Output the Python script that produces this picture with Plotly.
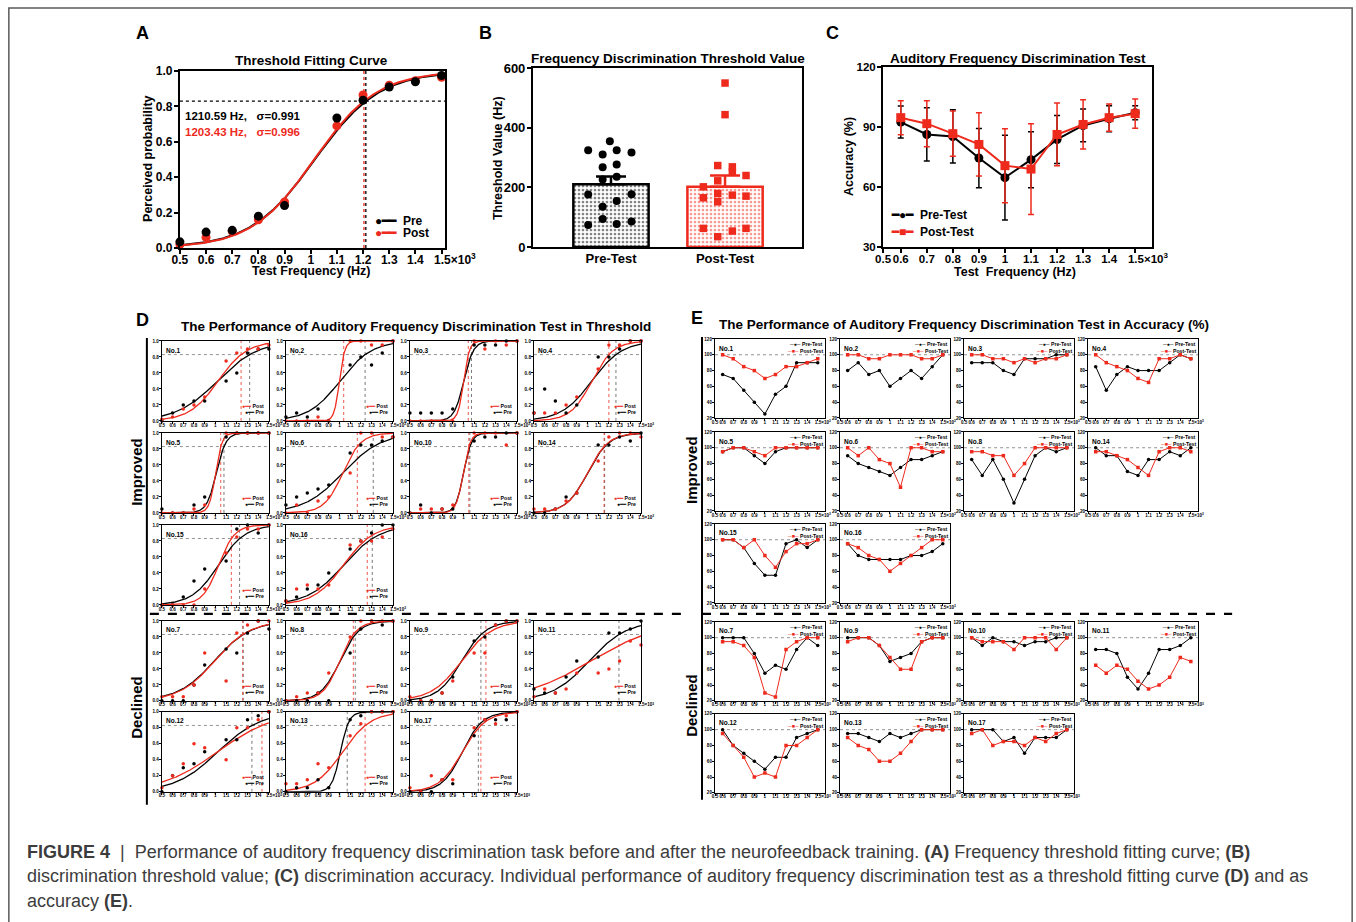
import numpy as np
import plotly.graph_objects as go

# target-picture geometry: paper is drawn into this pixel box of the page
OX, OY = 8.15, 6.9
PW, PH = 1316.7, 907.3
FONT = "Liberation Sans, Arial, Helvetica, sans-serif"
RED = "#ee2a1d"
BLK = "#000000"
GRAY = "#555555"

# ---------------- Panel A data ----------------
A_freq = [0.5, 0.6, 0.7, 0.8, 0.9, 1.1, 1.2, 1.3, 1.4, 1.5]
A_pre = [0.035, 0.09, 0.10, 0.18, 0.24, 0.735, 0.835, 0.91, 0.94, 0.975]
A_post = [0.02, 0.06, 0.095, 0.16, 0.26, 0.69, 0.865, 0.92, 0.945, 0.965]
A_pre_thr, A_pre_slope = 1.2106, 0.123
A_post_thr, A_post_slope = 1.2034, 0.120
CRIT = 0.83
X_TICKS = [0.5, 0.6, 0.7, 0.8, 0.9, 1.0, 1.1, 1.2, 1.3, 1.4, 1.5]
X_LABELS = ["0.5", "0.6", "0.7", "0.8", "0.9", "1", "1.1", "1.2", "1.3", "1.4",
            "\u00a0" * 8 + "1.5×10<sup>3</sup>"]
P_TICKS = [0, 0.2, 0.4, 0.6, 0.8, 1.0]
P_LABELS = ["0.0", "0.2", "0.4", "0.6", "0.8", "1.0"]

# ---------------- Panel B data ----------------
B_groups = ["Pre-Test", "Post-Test"]
B_means = [210.8, 201.8]
B_sems = [25.6, 38.0]
B_pre_vals = [324.5, 310, 354.6, 324.5, 316.7, 267.6, 276.6, 226.4, 235.3, 176.2, 177.3, 135, 154, 73.6, 93.7, 77, 85.9]
B_pre_jit = [-0.2, -0.073, -0.01, 0.05, 0.18, -0.073, 0.05, -0.073, 0.05, -0.2, 0.18, -0.073, 0.05, -0.2, -0.073, 0.05, 0.18]
B_post_vals = [549.8, 443.8, 273.2, 268.8, 251, 239.8, 201.8, 222, 179.5, 174, 165, 170.6, 151.7, 62.5, 53.5, 62.5, 34.6]
B_post_jit = [0, 0, -0.064, 0.064, 0.064, 0.184, -0.19, -0.064, -0.064, 0.064, -0.19, 0.184, -0.064, -0.19, 0.064, 0.184, -0.064]

# ---------------- Panel C data ----------------
C_freq = [0.6, 0.7, 0.8, 0.9, 1.0, 1.1, 1.2, 1.3, 1.4, 1.5]
C_pre = [92.5, 86.3, 85.3, 74.5, 64.7, 73.7, 83.8, 90.8, 94.2, 97.2]
C_pre_sd = [8, 13.3, 13.3, 14.8, 21.2, 14, 12, 8.2, 6.5, 3.5]
C_post = [94.7, 91.7, 86.7, 81.3, 70.7, 69, 86.3, 91.3, 94.7, 96.7]
C_post_sd = [8.5, 11.5, 11.3, 15.8, 18.5, 22.7, 15.7, 12.3, 6.8, 7.3]

# ---------------- Panel D data (threshold curves per subject) ----------------
D_ids = ["No.1", "No.2", "No.3", "No.4", "No.5", "No.6", "No.10", "No.14", "No.15", "No.16",
         "No.7", "No.8", "No.9", "No.11", "No.12", "No.13", "No.17"]
D_pre = [
    [0.0, 0.1, 0.2, 0.25, 0.25, 0.5, 0.6, 0.85, 0.9, 0.9],
    [0.05, 0.1, 0.05, 0.15, 0.0, 0.7, 0.8, 0.7, 0.85, 1.0],
    [0.1, 0.1, 0.1, 0.1, 0.15, 0.95, 0.95, 0.95, 1.0, 1.0],
    [0.1, 0.4, 0.25, 0.1, 0.2, 0.8, 0.8, 0.9, 1.0, 1.0],
    [0.05, 0.0, 0.0, 0.1, 0.2, 0.95, 1.0, 1.0, 1.0, 1.0],
    [0.1, 0.2, 0.25, 0.3, 0.35, 0.75, 0.85, 0.85, 0.9, 0.95],
    [0.0, 0.1, 0.0, 0.05, 0.05, 0.9, 0.95, 0.95, 1.0, 1.0],
    [0.0, 0.0, 0.05, 0.2, 0.25, 0.85, 0.85, 0.95, 0.9, 1.0],
    [0.0, 0.0, 0.1, 0.3, 0.45, 0.55, 0.95, 1.0, 0.9, 1.0],
    [0.05, 0.1, 0.2, 0.25, 0.4, 0.7, 0.8, 0.9, 1.0, 1.0],
    [0.0, 0.0, 0.0, 0.2, 0.45, 0.65, 0.6, 0.85, 1.0, 0.9],
    [0.0, 0.0, 0.0, 0.1, 0.0, 0.6, 0.9, 1.0, 0.95, 1.0],
    [0.0, 0.0, 0.0, 0.1, 0.3, 0.75, 0.8, 0.95, 1.0, 1.0],
    [0.15, 0.1, 0.1, 0.3, 0.5, 0.55, 0.85, 0.85, 0.9, 1.0],
    [0.0, 0.2, 0.3, 0.35, 0.5, 0.65, 0.65, 0.9, 0.95, 1.0],
    [0.0, 0.05, 0.05, 0.15, 0.05, 0.9, 0.95, 1.0, 1.0, 1.0],
    [0.0, 0.0, 0.0, 0.15, 0.1, 0.7, 0.9, 0.9, 0.9, 1.0],
]
D_post = [
    [0.02, 0.05, 0.15, 0.2, 0.3, 0.75, 0.85, 0.9, 0.9, 0.95],
    [0.0, 0.0, 0.0, 0.05, 0.0, 1.0, 1.0, 0.95, 0.95, 1.0],
    [0.0, 0.0, 0.0, 0.0, 0.0, 1.0, 0.9, 1.0, 0.95, 1.0],
    [0.1, 0.1, 0.1, 0.2, 0.3, 0.65, 0.95, 0.95, 1.0, 1.0],
    [0.0, 0.0, 0.0, 0.05, 0.1, 1.0, 1.0, 1.0, 1.0, 1.0],
    [0.0, 0.1, 0.0, 0.15, 0.2, 0.5, 1.0, 1.0, 0.95, 0.95],
    [0.0, 0.05, 0.05, 0.05, 0.1, 1.0, 1.0, 1.0, 0.85, 1.0],
    [0.05, 0.05, 0.05, 0.15, 0.25, 0.65, 0.95, 1.0, 1.0, 0.95],
    [0.0, 0.0, 0.0, 0.0, 0.2, 0.65, 0.85, 0.95, 0.95, 1.0],
    [0.05, 0.2, 0.25, 0.2, 0.25, 0.75, 0.8, 0.8, 0.85, 0.95],
    [0.05, 0.05, 0.05, 0.2, 0.6, 0.25, 0.85, 0.95, 1.0, 1.0],
    [0.0, 0.05, 0.1, 0.1, 0.35, 0.8, 1.0, 1.0, 1.0, 1.0],
    [0.05, 0.0, 0.0, 0.1, 0.25, 0.6, 0.6, 0.95, 1.0, 1.0],
    [0.05, 0.15, 0.1, 0.15, 0.35, 0.35, 0.4, 0.5, 0.75, 0.7],
    [0.05, 0.2, 0.35, 0.6, 0.55, 0.4, 0.8, 0.8, 0.9, 1.0],
    [0.1, 0.1, 0.15, 0.35, 0.3, 0.7, 0.85, 1.0, 1.0, 1.0],
    [0.05, 0.0, 0.2, 0.15, 0.15, 0.8, 0.9, 0.85, 0.95, 1.0],
]
D_pre_thr = [1.32, 1.24, 1.075, 1.266, 1.08, 1.316, 1.06, 1.16, 1.226, 1.307, 1.26, 1.148, 1.163, 1.294, 1.341, 1.073, 1.139]
D_pre_slope = [0.19, 0.148, 0.045, 0.142, 0.045, 0.18, 0.037, 0.1, 0.124, 0.168, 0.17, 0.09, 0.113, 0.175, 0.2, 0.04, 0.094]
D_post_thr = [1.24, 1.04, 1.045, 1.2, 1.05, 1.167, 1.05, 1.155, 1.149, 1.26, 1.255, 1.13, 1.21, 1.54, 1.435, 1.24, 1.163]
D_post_slope = [0.135, 0.025, 0.027, 0.1, 0.03, 0.086, 0.033, 0.098, 0.075, 0.139, 0.165, 0.08, 0.143, 0.32, 0.262, 0.132, 0.109]

# ---------------- Panel E data (accuracy per subject) ----------------
E_freq = [0.6, 0.7, 0.8, 0.9, 1.0, 1.1, 1.2, 1.3, 1.4, 1.5]
E_ids = ["No.1", "No.2", "No.3", "No.4", "No.5", "No.6", "No.8", "No.14", "No.15", "No.16",
         "No.7", "No.9", "No.10", "No.11", "No.12", "No.13", "No.17"]
E_pre = [
    [75, 70, 55, 40, 25, 50, 60, 90, 90, 90],
    [80, 90, 75, 80, 60, 70, 80, 70, 85, 100],
    [90, 90, 90, 80, 75, 95, 95, 95, 100, 100],
    [85, 55, 75, 85, 80, 80, 80, 90, 100, 95],
    [95, 100, 100, 90, 80, 95, 100, 100, 100, 100],
    [90, 80, 75, 70, 65, 75, 85, 85, 90, 95],
    [85, 65, 85, 60, 30, 60, 90, 100, 95, 100],
    [100, 90, 90, 70, 65, 85, 85, 95, 90, 100],
    [100, 100, 90, 70, 55, 55, 95, 100, 90, 100],
    [95, 80, 75, 75, 75, 75, 80, 80, 85, 95],
    [100, 100, 100, 80, 55, 65, 60, 85, 100, 90],
    [100, 100, 100, 90, 70, 75, 80, 95, 100, 100],
    [100, 90, 100, 95, 95, 90, 95, 95, 100, 100],
    [85, 85, 80, 50, 35, 55, 85, 85, 90, 100],
    [100, 80, 70, 60, 50, 65, 65, 90, 95, 100],
    [95, 95, 90, 85, 95, 90, 95, 100, 100, 100],
    [100, 100, 100, 85, 90, 70, 90, 90, 90, 100],
]
E_post = [
    [100, 95, 85, 80, 70, 75, 85, 85, 90, 95],
    [100, 100, 95, 95, 100, 100, 100, 95, 95, 100],
    [100, 100, 95, 95, 90, 95, 90, 95, 95, 100],
    [100, 90, 85, 80, 70, 65, 95, 95, 100, 95],
    [95, 100, 100, 95, 90, 100, 100, 100, 100, 100],
    [100, 90, 100, 85, 80, 50, 100, 100, 95, 95],
    [95, 95, 90, 90, 65, 80, 100, 100, 100, 100],
    [95, 95, 90, 85, 75, 65, 95, 100, 100, 95],
    [100, 100, 90, 100, 80, 65, 85, 95, 95, 100],
    [95, 90, 80, 75, 60, 70, 80, 90, 100, 100],
    [95, 95, 90, 75, 30, 25, 85, 95, 100, 100],
    [95, 100, 100, 90, 75, 60, 60, 95, 100, 100],
    [100, 95, 95, 95, 85, 100, 100, 100, 85, 100],
    [65, 55, 65, 60, 45, 35, 40, 50, 75, 70],
    [95, 80, 65, 40, 45, 40, 80, 80, 90, 100],
    [90, 80, 75, 60, 60, 70, 85, 100, 100, 100],
    [95, 100, 80, 85, 85, 80, 90, 85, 95, 100],
]
E_REF = 100

# ---------------- layout geometry (pixels of the target picture) ----------------
SLOTS = [(0, 0), (0, 1), (0, 2), (0, 3), (1, 0), (1, 1), (1, 2), (1, 3), (2, 0), (2, 1),
         (3, 0), (3, 1), (3, 2), (3, 3), (4, 0), (4, 1), (4, 2)]
D_ROWS = [341, 433, 525, 621, 712]
D_COLS = [162, 286, 410, 534]
D_W, D_H = 107, 80
E_ROWS = [339, 432, 524, 622, 714]
E_COLS = [715, 840, 964, 1088]
E_W, E_H = 110, 79


def fx(px):
    return (px - OX) / PW


def fy(py):
    return 1 - (py - OY) / PH


LOGIT = np.log(CRIT / (1 - CRIT))


def psycho(x, thr, s):
    return 1.0 / (1.0 + np.exp(-((x - thr) / s + LOGIT)))


XGRID = np.linspace(0.5, 1.5, 301)

traces = []
annotations = []
shapes = []
layout = dict(
    autosize=True, margin=dict(l=0, r=0, t=0, b=0, pad=0),
    paper_bgcolor="white", plot_bgcolor="white", showlegend=False,
    font=dict(family=FONT, color="black"),
)
counter = [0]


def new_axes(box, xr, yr, xtv, xtt, ytv, ytt, tsize, lw, tlen, xticks="outside", xstand=0, ystand=0):
    counter[0] += 1
    n = counter[0]
    s = "" if n == 1 else str(n)
    x0, x1, y0, y1 = box
    common = dict(showline=True, mirror=True, linecolor="black", linewidth=lw,
                  tickcolor="black", tickwidth=max(lw * 0.75, 0.6), ticklen=tlen,
                  showgrid=False, zeroline=False, fixedrange=True, tickmode="array",
                  tickfont=dict(family=FONT, size=tsize, color="black", weight="bold"))
    layout["xaxis" + s] = dict(domain=[fx(x0), fx(x1)], range=xr, anchor="y" + s,
                               tickvals=xtv, ticktext=xtt, tickangle=0, ticks=xticks,
                               ticklabelstandoff=xstand, **common)
    layout["yaxis" + s] = dict(domain=[fy(y1), fy(y0)], range=yr, anchor="x" + s,
                               tickvals=ytv, ticktext=ytt, ticks="outside",
                               ticklabelstandoff=ystand, **common)
    return "x" + s, "y" + s


def ann(text, px, py, size, bold=True, color="black", xanchor="center", angle=0, yanchor="middle"):
    annotations.append(dict(text=text, x=fx(px), y=fy(py), xref="paper", yref="paper",
                            showarrow=False, xanchor=xanchor, yanchor=yanchor, textangle=angle,
                            font=dict(family=FONT, size=size, color=color,
                                      weight="bold" if bold else "normal")))


def sub_ann(text, xa, ya, x, y, size, xanchor="left", yanchor="middle"):
    annotations.append(dict(text=text, x=x, y=y, xref=xa + " domain", yref=ya + " domain",
                            showarrow=False, xanchor=xanchor, yanchor=yanchor,
                            font=dict(family=FONT, size=size, color="black", weight="bold")))


# ================= Panel A =================
xa, ya = new_axes((180, 445, 71, 248), [0.5, 1.513], [0, 1.0], X_TICKS, X_LABELS,
                  P_TICKS, P_LABELS, 12, 2, 4, xstand=-4, ystand=-1)
traces.append(go.Scatter(x=[0.5, 1.513], y=[CRIT, CRIT], xaxis=xa, yaxis=ya, mode="lines",
                         line=dict(color=BLK, width=1.3, dash="dot")))
traces.append(go.Scatter(x=[A_pre_thr, A_pre_thr], y=[0, 1], xaxis=xa, yaxis=ya, mode="lines",
                         line=dict(color=BLK, width=1.3, dash="dot")))
traces.append(go.Scatter(x=[A_post_thr, A_post_thr], y=[0, 1], xaxis=xa, yaxis=ya, mode="lines",
                         line=dict(color=RED, width=1.3, dash="dot")))
traces.append(go.Scatter(x=XGRID, y=psycho(XGRID, A_pre_thr, A_pre_slope), xaxis=xa, yaxis=ya,
                         mode="lines", line=dict(color=BLK, width=2)))
traces.append(go.Scatter(x=XGRID, y=psycho(XGRID, A_post_thr, A_post_slope), xaxis=xa, yaxis=ya,
                         mode="lines", line=dict(color=RED, width=2)))
traces.append(go.Scatter(x=A_freq, y=A_post, xaxis=xa, yaxis=ya, mode="markers", cliponaxis=False,
                         marker=dict(color=RED, size=9)))
traces.append(go.Scatter(x=A_freq, y=A_pre, xaxis=xa, yaxis=ya, mode="markers", cliponaxis=False,
                         marker=dict(color=BLK, size=9)))
ann("A", 143, 33, 18)
ann("Threshold Fitting Curve", 312, 60, 13.5)
ann("Test Frequency (Hz)", 312, 271, 12.5)
ann("Perceived probability", 148, 159, 12.5, angle=-90)
ann("1210.59 Hz,   σ=0.991", 183, 116, 11.5, xanchor="left")
ann("1203.43 Hz,   σ=0.996", 183, 132, 11.5, xanchor="left", color=RED)
ann('<span style="color:black">●━━</span>  Pre', 373, 221, 12, xanchor="left")
ann('<span style="color:%s">●━━</span>  Post' % RED, 373, 233, 12, xanchor="left")

# ================= Panel B =================
xa, ya = new_axes((533, 802, 68, 247), [-0.684, 1.675], [0, 600], [0, 1], B_groups,
                  [0, 200, 400, 600], ["0", "200", "400", "600"], 12.5, 2, 4, xticks="",
                  xstand=-2, ystand=-1)
layout["xaxis2"]["tickfont"]["size"] = 13
bar_cols = [BLK, RED]
for gi in range(2):
    traces.append(go.Bar(
        x=[gi], y=[B_means[gi]], width=0.66, xaxis=xa, yaxis=ya,
        marker=dict(color="white", line=dict(color=bar_cols[gi], width=2.5),
                    pattern=dict(shape=".", fgcolor=bar_cols[gi], bgcolor="white", size=4, solidity=0.35)),
        error_y=dict(type="data", symmetric=False, array=[B_sems[gi]], arrayminus=[0],
                     color=bar_cols[gi], thickness=2.5, width=15)))
traces.append(go.Scatter(x=[0 + j for j in B_pre_jit], y=B_pre_vals, xaxis=xa, yaxis=ya,
                         mode="markers", marker=dict(color=BLK, size=8, symbol="circle")))
traces.append(go.Scatter(x=[1 + j for j in B_post_jit], y=B_post_vals, xaxis=xa, yaxis=ya,
                         mode="markers", marker=dict(color=RED, size=7.5, symbol="square")))
ann("B", 486, 33, 18)
ann("Frequency Discrimination Threshold Value", 668, 58, 13.5)
ann("Threshold Value (Hz)", 498, 158, 12.5, angle=-90)

# ================= Panel C =================
C_tv = [0.532] + C_freq
xa, ya = new_axes((883, 1152, 67, 247), [0.532, 1.565], [30, 120], C_tv, X_LABELS,
                  [30, 60, 90, 120], ["30", "60", "90", "120"], 11.5, 2, 4, xstand=-4, ystand=-1)
traces.append(go.Scatter(x=C_freq, y=C_pre, xaxis=xa, yaxis=ya, mode="lines+markers",
                         line=dict(color=BLK, width=2), marker=dict(color=BLK, size=9, symbol="circle"),
                         error_y=dict(type="data", array=C_pre_sd, color=BLK, thickness=1.5, width=3)))
traces.append(go.Scatter(x=C_freq, y=C_post, xaxis=xa, yaxis=ya, mode="lines+markers",
                         line=dict(color=RED, width=2), marker=dict(color=RED, size=9, symbol="square"),
                         error_y=dict(type="data", array=C_post_sd, color=RED, thickness=1.5, width=3)))
ann("C", 832, 33, 18)
ann("Auditory Frequency Discrimination Test", 1018, 58, 13.5)
ann("Test  Frequency (Hz)", 1015, 272, 12.5)
ann("Accuracy (%)", 849, 157, 12.5, angle=-90)
ann('<span style="color:black">━●━</span>  Pre-Test', 889, 215, 12, xanchor="left")
ann('<span style="color:%s">━■━</span>  Post-Test' % RED, 889, 232, 12, xanchor="left")

# ================= Panel D =================
for k, sid in enumerate(D_ids):
    r, c = SLOTS[k]
    box = (D_COLS[c], D_COLS[c] + D_W, D_ROWS[r], D_ROWS[r] + D_H)
    xa, ya = new_axes(box, [0.5, 1.5], [0, 1.0], X_TICKS, X_LABELS, P_TICKS, P_LABELS, 4.6, 1.2, 2,
                      xstand=-3, ystand=-1)
    traces.append(go.Scatter(x=[0.5, 1.5], y=[CRIT, CRIT], xaxis=xa, yaxis=ya, mode="lines",
                             line=dict(color="#777777", width=0.8, dash="dot")))
    traces.append(go.Scatter(x=[D_pre_thr[k]] * 2, y=[0, 1], xaxis=xa, yaxis=ya, mode="lines",
                             line=dict(color=GRAY, width=0.8, dash="dot")))
    traces.append(go.Scatter(x=[D_post_thr[k]] * 2, y=[0, 1], xaxis=xa, yaxis=ya, mode="lines",
                             line=dict(color=RED, width=0.8, dash="dot")))
    traces.append(go.Scatter(x=XGRID, y=psycho(XGRID, D_pre_thr[k], D_pre_slope[k]), xaxis=xa, yaxis=ya,
                             mode="lines", line=dict(color=BLK, width=1.3)))
    traces.append(go.Scatter(x=XGRID, y=psycho(XGRID, D_post_thr[k], D_post_slope[k]), xaxis=xa, yaxis=ya,
                             mode="lines", line=dict(color=RED, width=1.3)))
    traces.append(go.Scatter(x=A_freq, y=D_pre[k], xaxis=xa, yaxis=ya, mode="markers", cliponaxis=False,
                             marker=dict(color=BLK, size=3.5)))
    traces.append(go.Scatter(x=A_freq, y=D_post[k], xaxis=xa, yaxis=ya, mode="markers", cliponaxis=False,
                             marker=dict(color=RED, size=3.5)))
    sub_ann(sid, xa, ya, 0.02, 0.955, 6.5, yanchor="top")
    sub_ann('<span style="color:%s">●━━</span> Post' % RED, xa, ya, 0.97, 0.19, 5.2, xanchor="right")
    sub_ann('<span style="color:black">●━━</span> Pre', xa, ya, 0.97, 0.11, 5.2, xanchor="right")

ann("D", 143, 320, 18)
ann("The Performance of Auditory Frequency Discrimination Test in Threshold", 416, 327, 13.5)
ann("Improved", 137, 472, 15, angle=-90)
ann("Declined", 137, 707, 15, angle=-90)

# ================= Panel E =================
E_tv = [0.528] + E_freq
for k, sid in enumerate(E_ids):
    r, c = SLOTS[k]
    box = (E_COLS[c], E_COLS[c] + E_W, E_ROWS[r], E_ROWS[r] + E_H)
    xa, ya = new_axes(box, [0.528, 1.569], [20, 120], E_tv, X_LABELS,
                      [20, 40, 60, 80, 100, 120], ["20", "40", "60", "80", "100", "120"], 4.6, 1.2, 2,
                      xstand=-3, ystand=-1)
    traces.append(go.Scatter(x=[0.528, 1.569], y=[E_REF, E_REF], xaxis=xa, yaxis=ya, mode="lines",
                             line=dict(color="#777777", width=0.8, dash="dot")))
    traces.append(go.Scatter(x=E_freq, y=E_pre[k], xaxis=xa, yaxis=ya, mode="lines+markers",
                             line=dict(color=BLK, width=1), marker=dict(color=BLK, size=3.5, symbol="circle")))
    traces.append(go.Scatter(x=E_freq, y=E_post[k], xaxis=xa, yaxis=ya, mode="lines+markers",
                             line=dict(color=RED, width=1), marker=dict(color=RED, size=3.5, symbol="square")))
    sub_ann(sid, xa, ya, 0.02, 0.955, 6.5, yanchor="top")
    sub_ann('<span style="color:black">─●─</span> Pre-Test', xa, ya, 1.0, 0.935, 5.2, xanchor="right")
    sub_ann('<span style="color:%s">─■─</span> Post-Test' % RED, xa, ya, 1.0, 0.845, 5.2, xanchor="right")

ann("E", 697, 318, 18)
ann("The Performance of Auditory Frequency Discrimination Test in Accuracy (%)", 964, 325, 13.5)
ann("Improved", 692, 470, 15, angle=-90)
ann("Declined", 692, 706, 15, angle=-90)


# ================= decorations =================
def pshape(x0, y0, x1, y1, **kw):
    d = dict(xref="paper", yref="paper", x0=fx(x0), x1=fx(x1), y0=fy(y0), y1=fy(y1))
    d.update(kw)
    shapes.append(d)


pshape(9, 8, 1352, 935, type="rect", line=dict(color="#5a5a5a", width=1.5))
pshape(147, 338, 147, 805, type="line", line=dict(color="black", width=2))
pshape(702, 337, 702, 800, type="line", line=dict(color="black", width=2))
pshape(150, 614, 683, 614, type="line", line=dict(color="black", width=2.2, dash="dash"))
pshape(702, 614, 1232, 614, type="line", line=dict(color="black", width=2.2, dash="dash"))

CAP = "#3c3c3c"
ann("<b>FIGURE 4</b>  |  Performance of auditory frequency discrimination task before and after the "
    "neurofeedback training. <b>(A)</b> Frequency threshold fitting curve; <b>(B)</b>",
    25, 852, 18, bold=False, color=CAP, xanchor="left")
ann("discrimination threshold value; <b>(C)</b> discrimination accuracy. Individual performance of "
    "auditory frequency discrimination test as a threshold fitting curve <b>(D)</b> and as",
    25, 876, 18, bold=False, color=CAP, xanchor="left")
ann("accuracy <b>(E)</b>.", 25, 901, 18, bold=False, color=CAP, xanchor="left")

layout["annotations"] = annotations
layout["shapes"] = shapes
layout["barmode"] = "overlay"

fig = go.Figure(data=traces, layout=layout)
POST = (
    "var gd=document.getElementById('{plot_id}');"
    "var de=document.documentElement, bd=document.body;"
    "de.style.margin='0';de.style.padding='0';de.style.overflow='hidden';"
    "bd.style.margin='0';bd.style.padding='0';bd.style.overflow='hidden';"
    "gd.style.position='fixed';gd.style.left='0px';gd.style.top='0px';"
    "gd.style.width='100vw';gd.style.height='100vh';"
    "Plotly.Plots.resize(gd);"
)
fig.write_html("out.html", config={"displayModeBar": False, "responsive": True},
               default_width="100vw", default_height="100vh", post_script=POST)
